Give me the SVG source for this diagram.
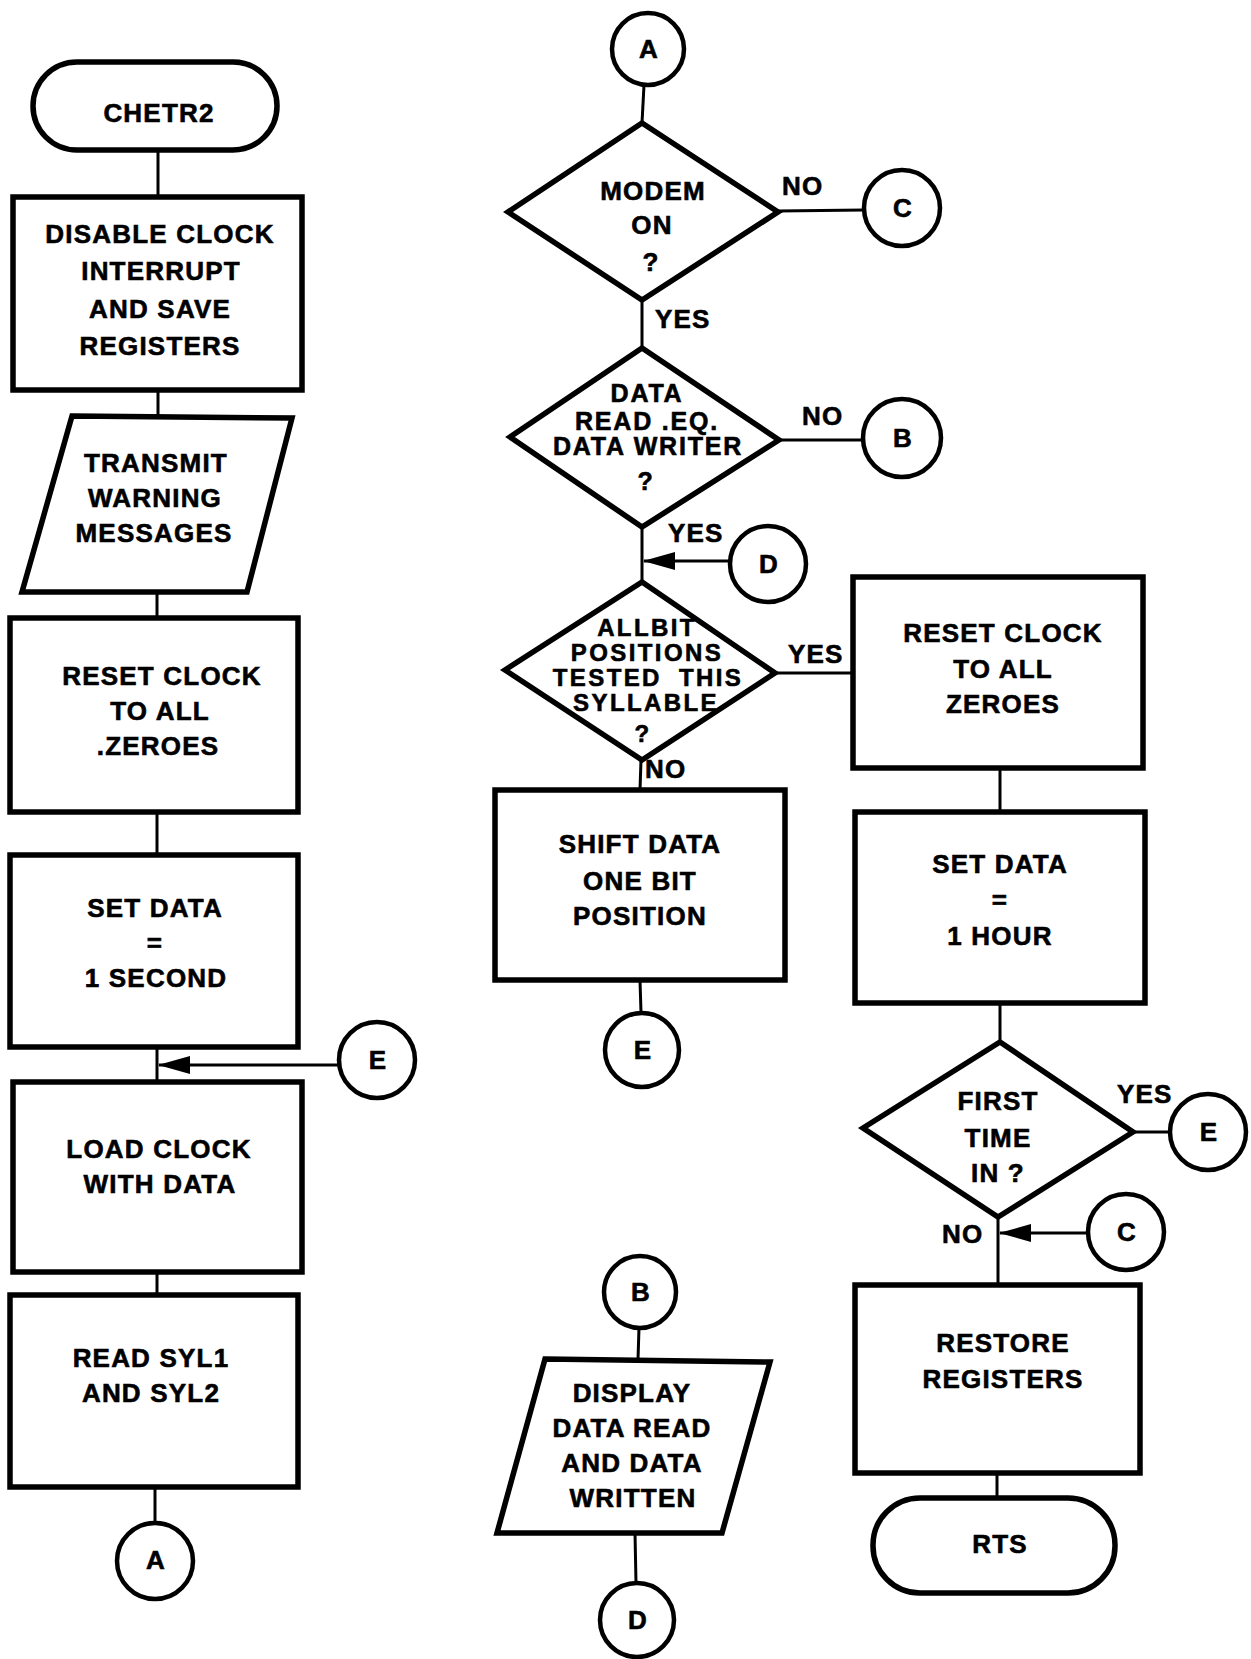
<svg xmlns="http://www.w3.org/2000/svg" width="1251" height="1659" viewBox="0 0 1251 1659">
<style>
.bg{fill:#fff}
.box{fill:#fff;stroke:#000;stroke-width:5.5;stroke-linejoin:miter}
.circ{fill:#fff;stroke:#000;stroke-width:4.5}
.ln{fill:none;stroke:#000;stroke-width:3}
text{font-family:"Liberation Sans",Arial,Helvetica,sans-serif;font-weight:bold;font-size:26px;letter-spacing:1.2px;fill:#000;stroke:#000;stroke-width:0.6px}
.c{text-anchor:middle}
.d{font-size:25px;letter-spacing:1.8px}
.s{font-size:24px;letter-spacing:2.4px}
</style>
<defs>
<marker id="arr" markerUnits="userSpaceOnUse" markerWidth="32" markerHeight="18" viewBox="0 0 32 18" refX="31" refY="9" orient="auto">
<path d="M0,0 L32,9 L0,18 z" fill="#000"/>
</marker>
</defs>
<rect class="bg" x="0" y="0" width="1251" height="1659"/>

<g id="connectors">
<line class="ln" x1="158" y1="150" x2="158" y2="197"/>
<line class="ln" x1="158" y1="390" x2="158" y2="416"/>
<line class="ln" x1="157" y1="592" x2="157" y2="618"/>
<line class="ln" x1="157" y1="812" x2="157" y2="855"/>
<line class="ln" x1="157" y1="1047" x2="157" y2="1082"/>
<line class="ln" x1="338" y1="1065" x2="159" y2="1065" marker-end="url(#arr)"/>
<line class="ln" x1="157" y1="1272" x2="157" y2="1295"/>
<line class="ln" x1="155" y1="1487" x2="155" y2="1522"/>

<line class="ln" x1="644" y1="85" x2="642" y2="123"/>
<line class="ln" x1="778" y1="211" x2="864" y2="210"/>
<line class="ln" x1="642" y1="300" x2="642" y2="348"/>
<line class="ln" x1="779" y1="440" x2="863" y2="440"/>
<line class="ln" x1="642" y1="527" x2="642" y2="582"/>
<line class="ln" x1="730" y1="561" x2="644" y2="561" marker-end="url(#arr)"/>
<line class="ln" x1="775" y1="673" x2="853" y2="673"/>
<line class="ln" x1="641" y1="760" x2="640" y2="790"/>
<line class="ln" x1="640" y1="980" x2="641" y2="1013"/>
<line class="ln" x1="639" y1="1328" x2="638" y2="1359"/>
<line class="ln" x1="635" y1="1533" x2="636" y2="1583"/>

<line class="ln" x1="1000" y1="768" x2="1000" y2="812"/>
<line class="ln" x1="1000" y1="1003" x2="1000" y2="1042"/>
<line class="ln" x1="1133" y1="1132" x2="1170" y2="1132"/>
<line class="ln" x1="998" y1="1217" x2="998" y2="1285"/>
<line class="ln" x1="1088" y1="1233" x2="1000" y2="1233" marker-end="url(#arr)"/>
<line class="ln" x1="997" y1="1473" x2="997" y2="1498"/>
</g>

<g id="chetr2">
<rect class="box" x="33" y="62" width="244" height="88" rx="44" ry="44"/>
<text class="c" x="159" y="122">CHETR2</text>
</g>
<g id="disable-clock">
<rect class="box" x="13" y="197" width="289" height="193"/>
<text class="c" x="160" y="243">DISABLE CLOCK</text>
<text class="c" x="161" y="280">INTERRUPT</text>
<text class="c" x="160" y="318">AND SAVE</text>
<text class="c" x="160" y="355">REGISTERS</text>
</g>
<g id="transmit-warning">
<polygon class="box" points="72,416 292,418 247,592 22,592"/>
<text class="c" x="156" y="472">TRANSMIT</text>
<text class="c" x="155" y="507">WARNING</text>
<text class="c" x="154" y="542">MESSAGES</text>
</g>
<g id="reset-clock-1">
<rect class="box" x="10" y="618" width="288" height="194"/>
<text class="c" x="162" y="685">RESET CLOCK</text>
<text class="c" x="160" y="720">TO ALL</text>
<text class="c" x="158" y="755">.ZEROES</text>
</g>
<g id="set-data-second">
<rect class="box" x="10" y="855" width="288" height="192"/>
<text class="c" x="155" y="917">SET DATA</text>
<text class="c" x="155" y="952">=</text>
<text class="c" x="156" y="987">1 SECOND</text>
</g>
<g id="conn-e-left">
<circle class="circ" cx="377" cy="1060" r="38"/>
<text class="c" x="378" y="1069">E</text>
</g>
<g id="load-clock">
<rect class="box" x="13" y="1082" width="289" height="190"/>
<text class="c" x="159" y="1158">LOAD CLOCK</text>
<text class="c" x="160" y="1193">WITH DATA</text>
</g>
<g id="read-syl">
<rect class="box" x="10" y="1295" width="288" height="192"/>
<text class="c" x="151" y="1367">READ SYL1</text>
<text class="c" x="151" y="1402">AND SYL2</text>
</g>
<g id="conn-a-out">
<circle class="circ" cx="155" cy="1561" r="38"/>
<text class="c" x="156" y="1569">A</text>
</g>

<g id="conn-a-in">
<circle class="circ" cx="648" cy="49" r="36"/>
<text class="c" x="649" y="58">A</text>
</g>
<g id="modem-on">
<polygon class="box" points="642,123 778,212 642,300 508,212"/>
<text class="c" x="653" y="200">MODEM</text>
<text class="c" x="652" y="234">ON</text>
<text class="c" x="651" y="271">?</text>
<text x="782" y="195">NO</text>
<text x="655" y="328">YES</text>
</g>
<g id="conn-c-out">
<circle class="circ" cx="902" cy="208" r="38"/>
<text class="c" x="903" y="217">C</text>
</g>
<g id="data-read-eq">
<polygon class="box" points="642,348 779,440 642,527 510,437"/>
<text class="c d" x="647" y="402">DATA</text>
<text class="c d" x="647" y="430">READ .EQ.</text>
<text class="c d" x="648" y="455">DATA WRITER</text>
<text class="c d" x="646" y="490">?</text>
<text x="802" y="425">NO</text>
<text x="668" y="542">YES</text>
</g>
<g id="conn-b-out">
<circle class="circ" cx="902" cy="438" r="39"/>
<text class="c" x="903" y="447">B</text>
</g>
<g id="conn-d-in">
<circle class="circ" cx="768" cy="564" r="38"/>
<text class="c" x="769" y="573">D</text>
</g>
<g id="allbit-tested">
<polygon class="box" points="642,582 775,673 642,760 505,670"/>
<text class="c s" x="647" y="636">ALLBIT</text>
<text class="c s" x="647" y="661">POSITIONS</text>
<text class="c s" x="648" y="686" style="word-spacing:8px">TESTED THIS</text>
<text class="c s" x="646" y="711">SYLLABLE</text>
<text class="c s" x="643" y="742">?</text>
<text x="788" y="663">YES</text>
<text x="645" y="778">NO</text>
</g>
<g id="shift-data">
<rect class="box" x="495" y="790" width="290" height="190"/>
<text class="c" x="640" y="853">SHIFT DATA</text>
<text class="c" x="640" y="890">ONE BIT</text>
<text class="c" x="640" y="925">POSITION</text>
</g>
<g id="conn-e-mid">
<circle class="circ" cx="642" cy="1050" r="37"/>
<text class="c" x="643" y="1059">E</text>
</g>
<g id="conn-b-in">
<circle class="circ" cx="640" cy="1292" r="36"/>
<text class="c" x="641" y="1301">B</text>
</g>
<g id="display-data">
<polygon class="box" points="545,1359 770,1362 722,1533 497,1533"/>
<text class="c" x="632" y="1402">DISPLAY</text>
<text class="c" x="632" y="1437">DATA READ</text>
<text class="c" x="632" y="1472">AND DATA</text>
<text class="c" x="633" y="1507">WRITTEN</text>
</g>
<g id="conn-d-out">
<circle class="circ" cx="637" cy="1620" r="37"/>
<text class="c" x="638" y="1629">D</text>
</g>

<g id="reset-clock-2">
<rect class="box" x="853" y="577" width="290" height="191"/>
<text class="c" x="1003" y="642">RESET CLOCK</text>
<text class="c" x="1003" y="678">TO ALL</text>
<text class="c" x="1003" y="713">ZEROES</text>
</g>
<g id="set-data-hour">
<rect class="box" x="855" y="812" width="290" height="191"/>
<text class="c" x="1000" y="873">SET DATA</text>
<text class="c" x="1000" y="909">=</text>
<text class="c" x="1000" y="945">1 HOUR</text>
</g>
<g id="first-time">
<polygon class="box" points="1000,1042 1133,1132 998,1217 863,1128"/>
<text class="c" x="998" y="1110">FIRST</text>
<text class="c" x="998" y="1147">TIME</text>
<text class="c" x="998" y="1182">IN ?</text>
<text x="1117" y="1103">YES</text>
<text x="942" y="1243">NO</text>
</g>
<g id="conn-e-right">
<circle class="circ" cx="1208" cy="1132" r="38"/>
<text class="c" x="1209" y="1141">E</text>
</g>
<g id="conn-c-in">
<circle class="circ" cx="1126" cy="1232" r="38"/>
<text class="c" x="1127" y="1241">C</text>
</g>
<g id="restore-registers">
<rect class="box" x="855" y="1285" width="285" height="188"/>
<text class="c" x="1003" y="1352">RESTORE</text>
<text class="c" x="1003" y="1388">REGISTERS</text>
</g>
<g id="rts">
<rect class="box" x="873" y="1498" width="242" height="95" rx="47" ry="47"/>
<text class="c" x="1000" y="1553">RTS</text>
</g>
</svg>
